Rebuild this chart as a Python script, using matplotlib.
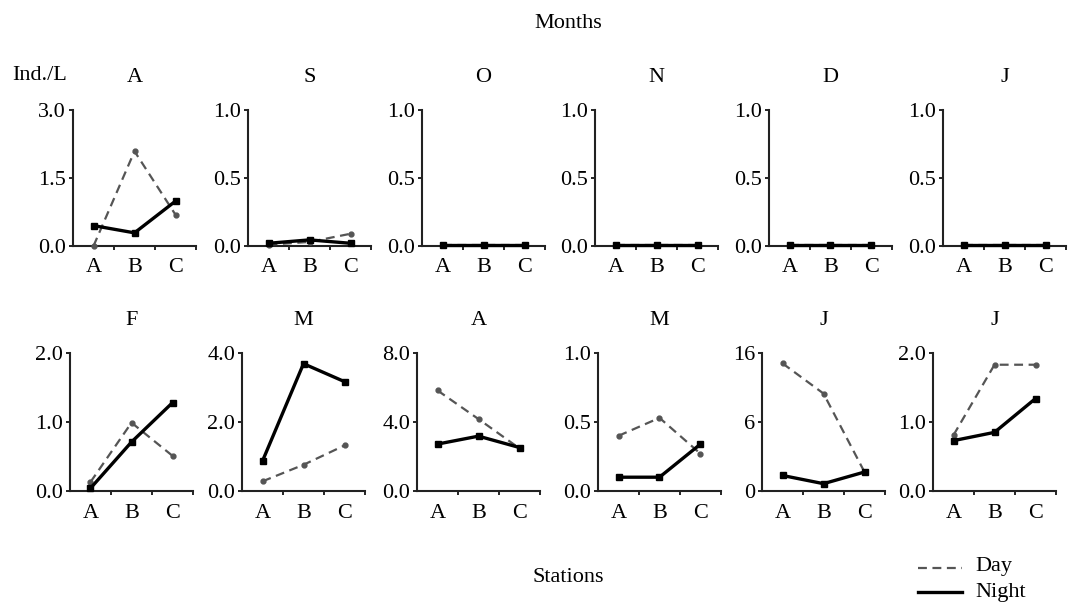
import numpy as np
import matplotlib.pyplot as plt

plt.rcParams['font.family'] = ['Liberation Serif', 'DejaVu Serif']

stations = ['A', 'B', 'C']

top_months = ['A', 'S', 'O', 'N', 'D', 'J']
top_day = [
    [0.0, 2.09, 0.69],
    [0.01, 0.03, 0.09],
    [0.005, 0.005, 0.005],
    [0.005, 0.005, 0.005],
    [0.005, 0.005, 0.005],
    [0.005, 0.005, 0.005],
]
top_night = [
    [0.45, 0.29, 0.99],
    [0.02, 0.045, 0.02],
    [0.005, 0.005, 0.005],
    [0.005, 0.005, 0.005],
    [0.005, 0.005, 0.005],
    [0.005, 0.005, 0.005],
]
top_ymax = [3.0, 1.0, 1.0, 1.0, 1.0, 1.0]
top_ticks = [['0.0', '1.5', '3.0'], ['0.0', '0.5', '1.0'], ['0.0', '0.5', '1.0'],
             ['0.0', '0.5', '1.0'], ['0.0', '0.5', '1.0'], ['0.0', '0.5', '1.0']]

bot_months = ['F', 'M', 'A', 'M', 'J', 'J']
bot_day = [
    [0.13, 0.99, 0.51],
    [0.28, 0.76, 1.32],
    [5.83, 4.17, 2.47],
    [0.40, 0.53, 0.27],
    [14.8, 11.3, 2.2],
    [0.81, 1.83, 1.83],
]
bot_night = [
    [0.04, 0.71, 1.28],
    [0.87, 3.69, 3.17],
    [2.72, 3.18, 2.52],
    [0.10, 0.10, 0.34],
    [1.8, 0.85, 2.2],
    [0.73, 0.85, 1.34],
]
bot_ymax = [2.0, 4.0, 8.0, 1.0, 16, 2.0]
bot_ticks = [['0.0', '1.0', '2.0'], ['0.0', '2.0', '4.0'], ['0.0', '4.0', '8.0'],
             ['0.0', '0.5', '1.0'], ['0', '6', '16'], ['0.0', '1.0', '2.0']]

W, H = 1073, 602
fig = plt.figure(figsize=(W / 100, H / 100), dpi=100)

top_left = [73, 248, 422, 595, 769, 943]
bot_left = [70, 242, 417, 598, 762, 933]
panel_w = 123
fs = 16


def draw_panel(left, top, bottom, title, day, night, ymax, ticklabels):
    ax = fig.add_axes([left / W, 1 - bottom / H, panel_w / W, (bottom - top) / H])
    x = np.arange(len(stations)) + 0.5
    ax.plot(x, day, color='#555555', ls=(0, (4, 2.5)), lw=1.6, marker='o', ms=3.5,
            clip_on=False, zorder=3)
    ax.plot(x, night, color='black', lw=2.4, marker='s', ms=4.5,
            clip_on=False, zorder=4)
    ax.set_xlim(0, 3)
    ax.set_ylim(0, ymax)
    ax.set_yticks([0, ymax / 2, ymax])
    ax.set_yticklabels(ticklabels)
    ax.set_xticks([1, 2, 3])
    ax.set_xticklabels([])
    ax.set_xticks(x, minor=True)
    ax.set_xticklabels(stations, minor=True)
    ax.tick_params(axis='x', which='minor', length=0, pad=9, labelsize=fs)
    ax.tick_params(axis='x', which='major', length=3, width=1.2, direction='out')
    ax.tick_params(axis='y', length=3, width=1.2, pad=2, labelsize=fs)
    for s in ['top', 'right']:
        ax.spines[s].set_visible(False)
    for s in ['left', 'bottom']:
        ax.spines[s].set_linewidth(1.5)
        ax.spines[s].set_color('#222222')
    ax.set_title(title, fontsize=fs, pad=20)
    return ax


for i in range(6):
    draw_panel(top_left[i], 110, 246, top_months[i], top_day[i], top_night[i],
               top_ymax[i], top_ticks[i])
    draw_panel(bot_left[i], 353, 491, bot_months[i], bot_day[i], bot_night[i],
               bot_ymax[i], bot_ticks[i])

fig.text(568 / W, 1 - 23 / H, 'Months', ha='center', va='center', fontsize=16)
fig.text(568 / W, 1 - 578 / H, 'Stations', ha='center', va='center', fontsize=16)
fig.text(40 / W, 1 - 75 / H, 'Ind./L', ha='center', va='center', fontsize=fs)

# legend
fig.add_artist(plt.Line2D([918 / W, 962 / W], [1 - 568 / H, 1 - 568 / H],
                          color='#555555', ls=(0, (4, 2.5)), lw=1.6))
fig.add_artist(plt.Line2D([918 / W, 962 / W], [1 - 592 / H, 1 - 592 / H],
                          color='black', lw=2.4))
fig.text(975 / W, 1 - 567 / H, 'Day', ha='left', va='center', fontsize=16)
fig.text(975 / W, 1 - 592 / H, 'Night', ha='left', va='center', fontsize=16)

fig.savefig('out.png', dpi=100)
